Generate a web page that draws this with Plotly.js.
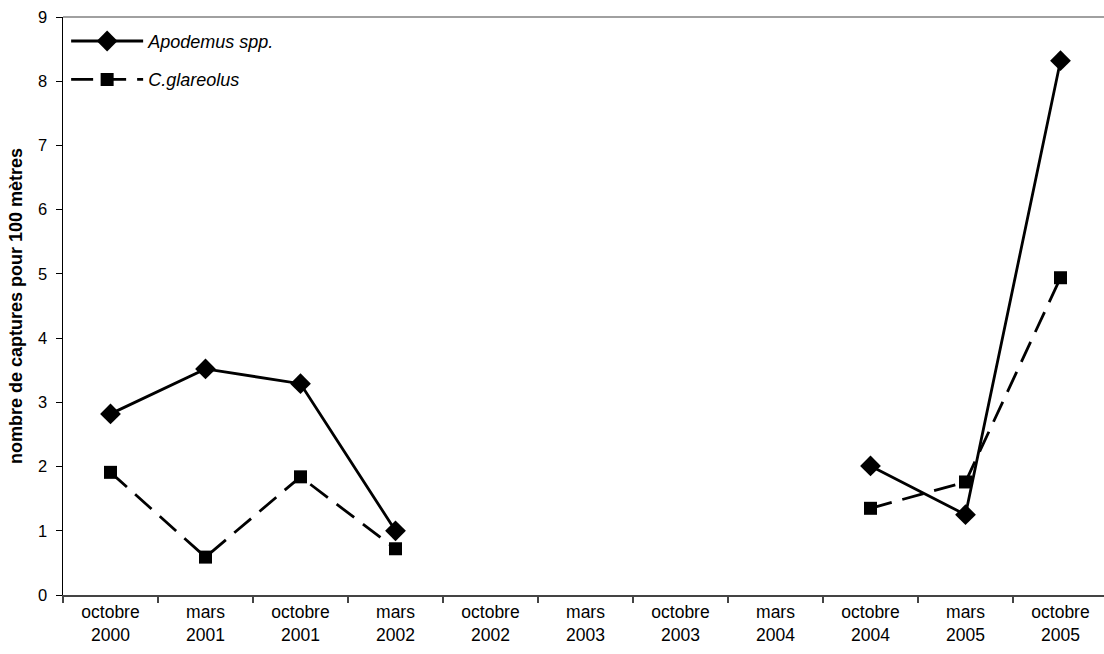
<!DOCTYPE html>
<html>
<head>
<meta charset="utf-8">
<script src="https://cdn.plot.ly/plotly-3.0.1.min.js"></script>
<style>
html,body{margin:0;padding:0;overflow:hidden;background:#fff;}
#chart{width:1108px;height:654px;}
</style>
</head>
<body>
<div id="chart"></div>
<script>
const categories = ["octobre<br>2000","mars<br>2001","octobre<br>2001","mars<br>2002","octobre<br>2002","mars<br>2003","octobre<br>2003","mars<br>2004","octobre<br>2004","mars<br>2005","octobre<br>2005"];
const apodemus = [2.82, 3.52, 3.29, 1.0, null, null, null, null, 2.01, 1.25, 8.32];
const glareolus = [1.91, 0.59, 1.84, 0.72, null, null, null, null, 1.35, 1.76, 4.94];
const yTicks = [0,1,2,3,4,5,6,7,8,9];

const traces = [
  {x: categories, y: apodemus, name: "Apodemus spp.", type: "scatter", mode: "lines+markers",
   connectgaps: false, legendgroup: "a",
   line: {color: "#000", width: 2.8},
   marker: {symbol: "diamond", size: 16, color: "#000"}},
  {x: categories, y: glareolus, name: "C.glareolus", type: "scatter", mode: "lines+markers",
   connectgaps: false, legendgroup: "b",
   line: {color: "#000", width: 2.8, dash: "22px,11px"},
   marker: {symbol: "square", size: 13, color: "#000"}}
];

const layout = {
  width: 1108, height: 654,
  margin: {l: 63, r: 0, t: 17, b: 59},
  paper_bgcolor: "#fff", plot_bgcolor: "#fff",
  font: {family: "Liberation Sans, Arial, sans-serif", size: 16, color: "#000"},
  showlegend: true,
  legend: {x: 0.003, y: 0.99, xanchor: "left", yanchor: "top", bgcolor: "rgba(0,0,0,0)",
           font: {size: 18, style: "italic"}, itemwidth: 72, traceorder: "grouped", tracegroupgap: 12},
  xaxis: {type: "category", range: [-0.5, 10.5], tickson: "boundaries",
          ticks: "outside", ticklen: 6, tickwidth: 1.5, tickcolor: "#444",
          showline: true, linecolor: "#444", linewidth: 2, showgrid: false,
          zeroline: false, tickfont: {size: 17.5}, fixedrange: true},
  yaxis: {range: [0, 9], tickvals: yTicks, ticks: "outside", ticklen: 6, tickcolor: "#000",
          showline: true, linecolor: "#000", linewidth: 1.5, showgrid: false, zeroline: false,
          tickfont: {size: 16.5}, ticklabelstandoff: 5,
          title: {text: "<b>nombre de captures pour 100 mètres</b>", font: {size: 18}, standoff: 10}},
  shapes: [{type: "line", xref: "paper", yref: "paper", x0: 0, x1: 1, y0: 1, y1: 1,
            line: {color: "#808080", width: 1.5}}]
};

Plotly.newPlot("chart", traces, layout, {displayModeBar: false, staticPlot: true});
</script>
</body>
</html>
